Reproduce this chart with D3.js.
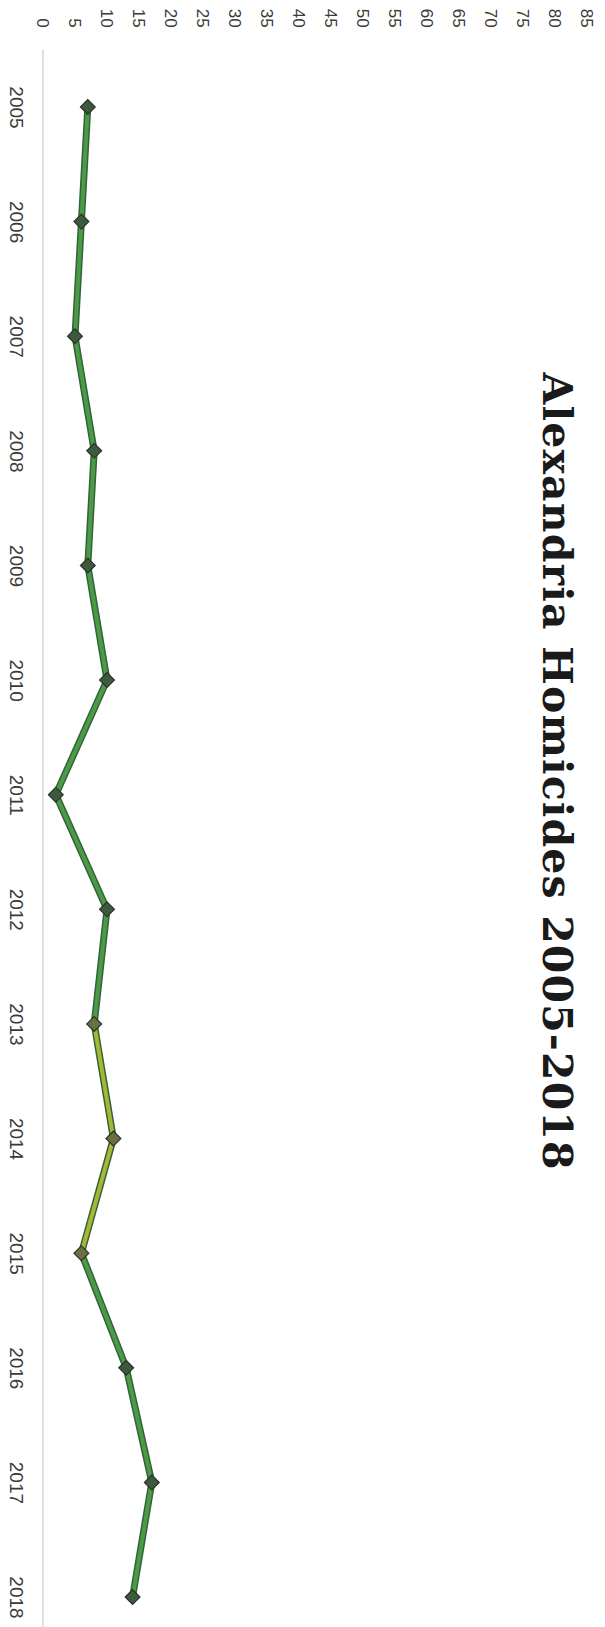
<!doctype html>
<html>
<head>
<meta charset="utf-8">
<style>
	body { margin: 0; background: #fff; }
	svg { display: block; }
</style>
</head>
<body>
	<div class="chart"></div>

	<script src="https://d3js.org/d3.v7.min.js"></script>
	<script>
		const years = ["2005", "2006", "2007", "2008", "2009", "2010", "2011",
			"2012", "2013", "2014", "2015", "2016", "2017", "2018"];
		const homicides = [7, 6, 5, 8, 7, 10, 2, 10, 8, 11, 6, 13, 17, 14];
		const valueTicks = [0, 5, 10, 15, 20, 25, 30, 35, 40, 45, 50, 55, 60, 65, 70, 75, 80, 85];
		const title = "Alexandria Homicides 2005-2018";

		let pageW = 605,
			pageH = 1627;

		let svg = d3.select(".chart")
			.append("svg")
			.attr("width", pageW)
			.attr("height", pageH);

		// the whole chart is drawn upright and then turned 90deg clockwise
		// u runs along the page height, v across the page width
		let g = svg.append("g")
			.attr("transform", "translate(" + pageW + ",0) rotate(90)");

		let scaleX = d3.scalePoint()
			.domain(years)
			.range([107, 1597]);

		let scaleY = d3.scaleLinear()
			.domain([0, 85])
			.range([562, 18]);

		let step = scaleX.step();

		// value axis (top of page)
		let yAxis = d3.axisLeft(scaleY)
			.tickValues(valueTicks)
			.tickSize(0)
			.tickPadding(22);

		g.append("g")
			.attr("transform", "translate(" + (scaleX(years[0]) - step / 2) + ",0)")
			.call(yAxis)
			.call(s => s.select(".domain").remove())
			.selectAll("text")
			.style("font-family", "'Liberation Sans', Arial, sans-serif")
			.style("font-size", "17px")
			.style("fill", "#3a3a3a");

		// category axis (left of page)
		let xAxis = d3.axisBottom(scaleX)
			.tickSize(0)
			.tickPadding(20);

		let xg = g.append("g")
			.attr("transform", "translate(0," + scaleY(0) + ")")
			.call(xAxis);
		xg.select(".domain").remove();
		xg.selectAll("text")
			.style("font-family", "'Liberation Sans', Arial, sans-serif")
			.style("font-size", "19px")
			.style("fill", "#3a3a3a");

		g.append("line")
			.attr("x1", scaleX(years[0]) - step / 2)
			.attr("x2", scaleX(years[years.length - 1]) + step / 2)
			.attr("y1", scaleY(0))
			.attr("y2", scaleY(0))
			.style("stroke", "#d6d6d6")
			.style("stroke-width", 1.5);

		// title
		g.append("text")
			.attr("x", 771)
			.attr("y", 62)
			.attr("text-anchor", "middle")
			.attr("textLength", 797)
			.attr("lengthAdjust", "spacing")
			.style("font-family", "'DejaVu Serif', serif")
			.style("font-weight", "bold")
			.style("font-size", "41px")
			.style("fill", "#1a1a1a")
			.text(title);

		// line, drawn per segment (the scan turns 2013-2015 yellowish)
		let points = years.map((yr, i) => ({ year: yr, v: homicides[i] }));
		let segs = d3.pairs(points);
		let segColour = d => (d[0].year === "2013" || d[0].year === "2014") ? "#a9b634" : "#4b9a46";

		let lineF = d3.line()
			.x(d => scaleX(d.year))
			.y(d => scaleY(d.v));

		g.append("g")
			.selectAll("path")
			.data(segs)
			.join("path")
			.attr("d", d => lineF(d))
			.style("fill", "none")
			.style("stroke", "#33633a")
			.style("stroke-width", 7)
			.style("stroke-linecap", "round");

		g.append("g")
			.selectAll("path")
			.data(segs)
			.join("path")
			.attr("d", d => lineF(d))
			.style("fill", "none")
			.style("stroke", segColour)
			.style("stroke-width", 4)
			.style("stroke-linecap", "round");

		// diamond markers
		let marker = d3.symbol().type(d3.symbolSquare).size(110);

		g.append("g")
			.selectAll("path")
			.data(points)
			.join("path")
			.attr("d", marker)
			.attr("transform", d => "translate(" + scaleX(d.year) + "," + scaleY(d.v) + ") rotate(45)")
			.style("fill", d => (d.year === "2013" || d.year === "2014" || d.year === "2015") ? "#6b7040" : "#3e5a3c")
			.style("stroke", "#2a332a")
			.style("stroke-width", 1.2);
	</script>
</body>
</html>
